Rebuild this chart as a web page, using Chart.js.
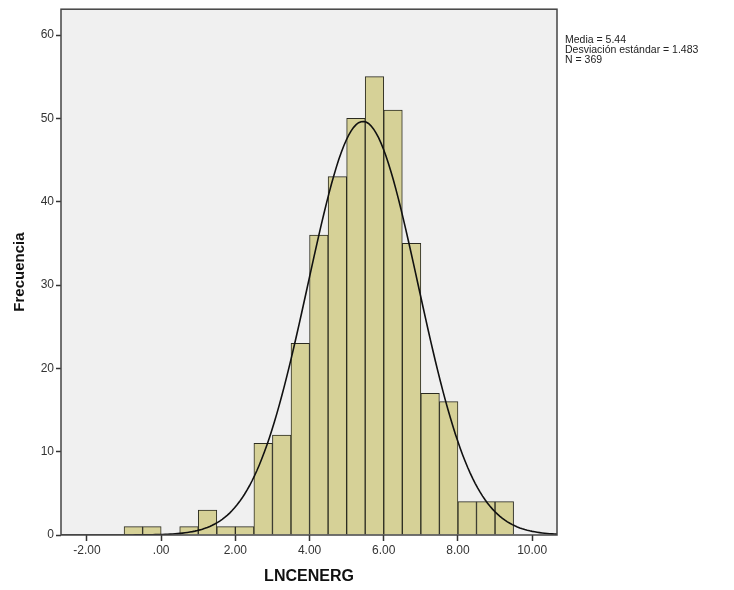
<!DOCTYPE html>
<html>
<head>
<meta charset="utf-8">
<script src="https://cdn.jsdelivr.net/npm/chart.js@4.4.1/dist/chart.umd.min.js"></script>
<style>
  html, body { margin: 0; padding: 0; background: #fff; }
  #wrap { width: 734px; height: 590px; }
</style>
</head>
<body>
<div id="wrap"><canvas id="histChart" width="734" height="590"></canvas></div>
<script>
// bin centers (bin width 0.5) and frequencies
const binCenters = [-0.75, -0.25, 0.25, 0.75, 1.25, 1.75, 2.25, 2.75, 3.25, 3.75,
  4.25, 4.75, 5.25, 5.75, 6.25, 6.75, 7.25, 7.75, 8.25, 8.75, 9.25];
const frequencies = [1, 1, 0, 1, 3, 1, 1, 11, 12, 23,
  36, 43, 50, 55, 51, 35, 17, 16, 4, 4, 4];
const xTicks = [-2, 0, 2, 4, 6, 8, 10];
const yTicks = [0, 10, 20, 30, 40, 50, 60];

const media = 5.44;
const desviacion = 1.483;
const n = 369;
const binWidth = 0.5;

const xMin = -2.7;
const xMax = 10.67;

// normal curve scaled to counts
const curve = [];
for (let i = 0; i <= 200; i++) {
  const x = xMin + (xMax - xMin) * i / 200;
  const z = (x - media) / desviacion;
  const y = n * binWidth * Math.exp(-0.5 * z * z) / (desviacion * Math.sqrt(2 * Math.PI));
  curve.push({ x: x, y: y });
}

const statsText = [
  "Media = " + media.toFixed(2),
  "Desviación estándar = " + desviacion.toFixed(3),
  "N = " + n,
];

const plotFrame = {
  id: "plotFrame",
  beforeDatasetsDraw(chart) {
    const { ctx, chartArea: a } = chart;
    ctx.save();
    ctx.fillStyle = "#f0f0f0";
    ctx.fillRect(a.left, a.top, a.right - a.left, a.bottom - a.top);
    ctx.restore();
  },
  afterDatasetsDraw(chart) {
    const { ctx, chartArea: a } = chart;
    ctx.save();
    ctx.strokeStyle = "#444";
    ctx.lineWidth = 1.5;
    ctx.strokeRect(a.left, a.top, a.right - a.left, a.bottom - a.top);
    ctx.fillStyle = "#222";
    ctx.font = "10.5px 'Liberation Sans', Arial, sans-serif";
    ctx.textBaseline = "middle";
    statsText.forEach((t, i) => ctx.fillText(t, a.right + 8, 40 + i * 10));
    ctx.restore();
  },
};

const ctx = document.getElementById("histChart").getContext("2d");
const histChart = new Chart(ctx, {
  type: "bar",
  data: {
    datasets: [
      {
        type: "line",
        label: "Normal",
        data: curve,
        borderColor: "#111",
        borderWidth: 1.6,
        pointRadius: 0,
        tension: 0,
        fill: false,
        order: 0,
      },
      {
        label: "Frecuencia",
        data: binCenters.map((c, i) => ({ x: c, y: frequencies[i] })),
        backgroundColor: "#d6d197",
        borderColor: "#2b2b20",
        borderWidth: 1,
        barPercentage: 1,
        categoryPercentage: 1,
        order: 1,
      },
    ],
  },
  options: {
    responsive: false,
    animation: false,
    layout: { padding: { left: 7, right: 177, top: 8, bottom: 0 } },
    plugins: {
      legend: { display: false },
      tooltip: { enabled: false },
    },
    scales: {
      x: {
        type: "linear",
        min: xMin,
        max: xMax,
        offset: false,
        afterBuildTicks: (scale) => {
          scale.ticks = xTicks.map((v) => ({ value: v }));
        },
        afterFit: (scale) => {
          scale.height = 55;
        },
        grid: {
          offset: false,
          drawOnChartArea: false,
          drawTicks: true,
          tickLength: 6,
          tickWidth: 1.5,
          tickColor: "#333",
          color: "#333",
        },
        border: { display: false },
        ticks: {
          color: "#333",
          padding: 2,
          font: { family: "'Liberation Sans', Arial, sans-serif", size: 12 },
          maxRotation: 0,
          callback: (v) => (v === 0 ? ".00" : v.toFixed(2)),
        },
        title: {
          display: true,
          text: "LNCENERG",
          color: "#111",
          padding: { top: 20 },
          font: { family: "'Liberation Sans', Arial, sans-serif", size: 16, weight: "bold" },
        },
      },
      y: {
        min: 0,
        max: 63.1,
        afterBuildTicks: (scale) => {
          scale.ticks = yTicks.map((v) => ({ value: v }));
        },
        afterFit: (scale) => {
          scale.width = 54;
        },
        grid: {
          drawOnChartArea: false,
          drawTicks: true,
          tickLength: 5,
          tickWidth: 1.5,
          tickColor: "#333",
          color: "#333",
        },
        border: { display: false },
        ticks: {
          color: "#333",
          padding: 2,
          font: { family: "'Liberation Sans', Arial, sans-serif", size: 12 },
        },
        title: {
          display: true,
          text: "Frecuencia",
          color: "#111",
          padding: { bottom: 14 },
          font: { family: "'Liberation Sans', Arial, sans-serif", size: 15, weight: "bold" },
        },
      },
    },
  },
  plugins: [plotFrame],
});
</script>
</body>
</html>
